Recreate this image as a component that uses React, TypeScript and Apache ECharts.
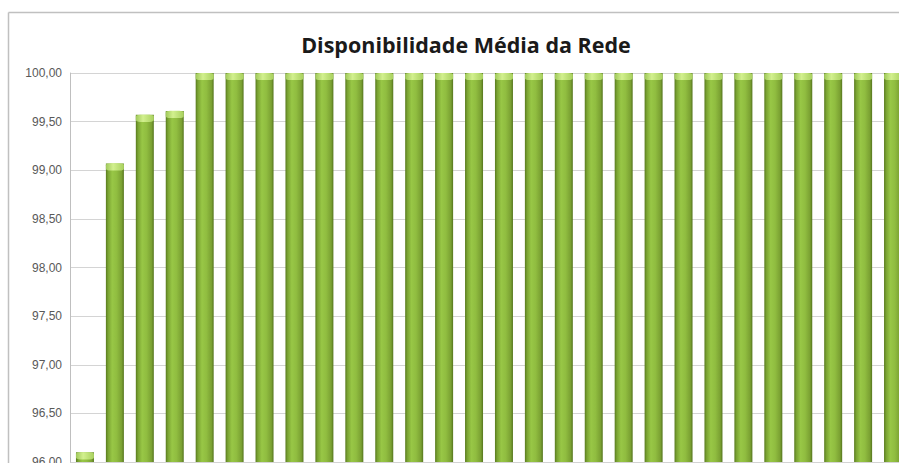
import React, { useEffect, useRef } from "react";
import * as echarts from "echarts";

const title = "Disponibilidade Média da Rede";
const categories = [
  "1", "2", "3", "4", "5", "6", "7", "8", "9", "10", "11", "12", "13", "14",
  "15", "16", "17", "18", "19", "20", "21", "22", "23", "24", "25", "26", "27", "28",
];
const availability = [
  96.1, 99.07, 99.57, 99.61, 100, 100, 100, 100, 100, 100, 100, 100, 100, 100,
  100, 100, 100, 100, 100, 100, 100, 100, 100, 100, 100, 100, 100, 100,
];
const yMin = 96;
const yMax = 100;
const yStep = 0.5;

export default function App() {
  const ref = useRef<HTMLDivElement>(null);
  useEffect(() => {
    if (!ref.current) return;
    const chart = echarts.init(ref.current, undefined, { renderer: "svg" });
    const barGrad = new echarts.graphic.LinearGradient(0, 0, 1, 0, [
      { offset: 0, color: "#587a1e" },
      { offset: 0.12, color: "#7aa332" },
      { offset: 0.35, color: "#98c746" },
      { offset: 0.6, color: "#90bd40" },
      { offset: 0.88, color: "#7aa032" },
      { offset: 1, color: "#55751e" },
    ]);
    const capGrad = new echarts.graphic.LinearGradient(0, 0, 1, 0, [
      { offset: 0, color: "#9fc85a" },
      { offset: 0.4, color: "#d2f08e" },
      { offset: 1, color: "#a8d05e" },
    ]);
    chart.setOption({
      animation: false,
      backgroundColor: "#ffffff",
      title: {
        text: title,
        left: 461,
        top: 28,
        textAlign: "center",
        textStyle: {
          fontFamily: "Open Sans",
          fontWeight: "bold",
          fontSize: 21.5,
          color: "#1a1a1a",
        },
      },
      graphic: [
        {
          type: "line",
          shape: { x1: 8.5, y1: 12.5, x2: 940, y2: 12.5 },
          style: { stroke: "#c0c0c0", lineWidth: 1.5 },
          silent: true,
        },
        {
          type: "line",
          shape: { x1: 8.5, y1: 12.5, x2: 8.5, y2: 520 },
          style: { stroke: "#c0c0c0", lineWidth: 1.5 },
          silent: true,
        },
      ],
      grid: { left: 70, top: 73, width: 838, bottom: 38 },
      xAxis: {
        type: "category",
        data: categories,
        axisLine: { show: false },
        axisTick: { show: false },
        axisLabel: { show: false },
      },
      yAxis: {
        type: "value",
        min: yMin,
        max: yMax,
        interval: yStep,
        axisLine: { show: true, lineStyle: { color: "#bfbfbf", width: 1 } },
        axisTick: { show: false },
        axisLabel: {
          margin: 8,
          color: "#595959",
          fontFamily: "Liberation Sans",
          fontSize: 12,
          formatter: (v: number) => v.toFixed(2).replace(".", ","),
        },
        splitLine: { lineStyle: { color: "#d4d4d4", width: 1 } },
      },
      series: [
        {
          type: "bar",
          data: availability,
          barWidth: 18,
          itemStyle: { color: barGrad },
          z: 2,
        },
        {
          type: "pictorialBar",
          data: availability,
          symbol: "roundRect",
          symbolSize: [18, 7],
          symbolPosition: "end",
          itemStyle: { color: capGrad },
          z: 3,
        },
      ],
    });
    return () => chart.dispose();
  }, []);
  return (
    <div
      style={{
        position: "fixed",
        left: 0,
        top: 0,
        width: 899,
        height: 463,
        overflow: "hidden",
        background: "#fff",
      }}
    >
      <div ref={ref} style={{ position: "absolute", left: 0, top: 0, width: 930, height: 500 }} />
    </div>
  );
}
